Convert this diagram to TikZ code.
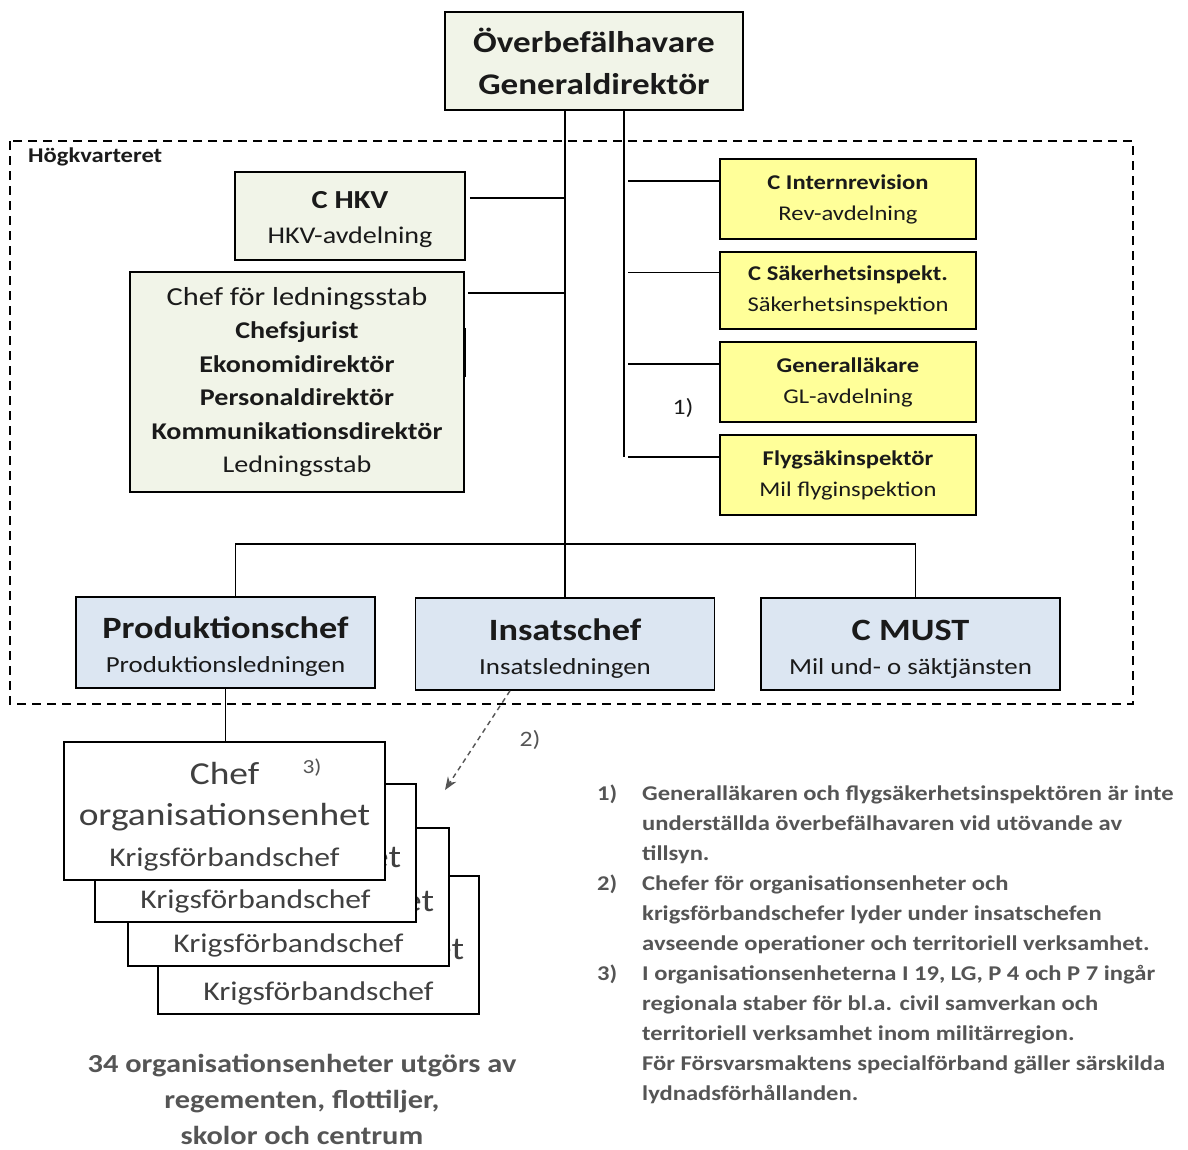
\documentclass[tikz,border=0pt]{standalone}
\usepackage{fontspec}
\setmainfont{Carlito}[FakeStretch=1.17]
\usepackage{tikz}
\usetikzlibrary{calc, positioning, arrows.meta}
\definecolor{staffgreen}{HTML}{F1F4E8}
\definecolor{inspyellow}{HTML}{FFFF99}
\definecolor{chiefblue}{HTML}{DCE6F2}
\definecolor{boxtext}{HTML}{1A1A1A}
\definecolor{notegray}{HTML}{555555}
\definecolor{unitgray}{HTML}{404040}
\newcommand{\fsz}[2]{\fontsize{#1}{#2}\selectfont}
\tikzset{
	box/.style={draw, line width=1.6pt, align=center, inner sep=0pt, text=boxtext},
	staff/.style={box, fill=staffgreen},
	inspect/.style={box, fill=inspyellow, minimum width=256pt, minimum height=80pt, font=\fsz{21}{31}},
	chief/.style={box, fill=chiefblue, minimum width=299pt, minimum height=92pt, font=\fsz{23}{34}},
	unit/.style={box, fill=white, line width=1.4pt, minimum width=321pt, minimum height=138pt, text=unitgray, font=\fsz{32}{41}},
	link/.style={line width=1.6pt}
}

\begin{document}
\begin{tikzpicture}[
	x=1pt, y=-1pt,
	note/.style={anchor=base west, inner sep=0pt, text=notegray, font=\fsz{21}{30}\bfseries},
	fnmark/.style={inner sep=0pt, text=notegray, font=\fsz{22}{26}}]
	\useasboundingbox (0,0) rectangle (1188,1149);

	% Högkvarteret
	\draw[line width=1.6pt, dash pattern=on 9pt off 6pt] (10,141) rectangle (1133,704);
	\node[anchor=west, inner sep=0pt, font=\fsz{21}{24}\bfseries, text=boxtext] (hkvlabel) at (28,157) {Högkvarteret};

	\node[staff, minimum width=298pt, minimum height=98pt, font=\fsz{30}{42}\bfseries] (top) at (594,61) {Överbefälhavare\\Generaldirektör};
	\node[staff, minimum width=230pt, minimum height=88pt, font=\fsz{24}{35}] (hkv) at (350,216) {{\fsz{26}{35}\bfseries\rule{0pt}{24pt}C HKV}\\HKV-avdelning};
	\node[staff, minimum width=334pt, minimum height=220pt, font=\fsz{24}{33.4}] (stab) at (297,382)
		{{\fsz{26}{33.4}Chef för ledningsstab}\\\textbf{Chefsjurist}\\\textbf{Ekonomidirektör}\\\textbf{Personaldirektör}\\\textbf{Kommunikationsdirektör}\\Ledningsstab};
	\draw[line width=3pt] ([yshift=-57pt]stab.north east) -- ([yshift=-106pt]stab.north east);

	\node[inspect] (rev) at (848,199) {\textbf{C Internrevision}\\Rev-avdelning};
	\node[inspect, minimum height=77pt] (sak) at (848,290.5) {\textbf{C Säkerhetsinspekt.}\\Säkerhetsinspektion};
	\node[inspect] (gl) at (848,382) {\textbf{Generalläkare}\\GL-avdelning};
	\node[inspect] (flyg) at (848,475) {\textbf{Flygsäkinspektör}\\Mil flyginspektion};
	\node[fnmark, text=boxtext] (fn1) at (683,408) {1)};

	\node[chief, minimum height=91pt] (prod) at (225.5,642.5) {{\fsz{31}{34}\bfseries\rule{0pt}{30pt}Produktionschef}\\Produktionsledningen};
	\node[chief] (insats) at (565,644) {{\fsz{31}{34}\bfseries\rule{0pt}{30pt}Insatschef}\\Insatsledningen};
	\node[chief] (must) at (910.5,644) {{\fsz{31}{34}\bfseries\rule{0pt}{30pt}C MUST}\\Mil und- o säktjänsten};

	% connectors
	\draw[link] (top.south -| insats.north) -- (insats.north);
	\coordinate (hkvtap) at ($(hkv.north east)+(4,27)$);
	\coordinate (stabtap) at ($(stab.north east)+(3,22)$);
	\draw[link] (hkvtap) -- (hkvtap -| insats.north);
	\draw[link] (stabtap) -- (stabtap -| insats.north);
	\coordinate (spine) at ($(top.south)+(30,0)$);
	\foreach \b in {rev, sak, gl, flyg} {
		\coordinate (tap-\b) at ([yshift=18pt]\b.west);
		\draw[link] (tap-\b) -- ([xshift=4pt]tap-\b -| spine);
	}
	\draw[link] (spine) -- (spine |- tap-flyg);
	\coordinate (bar) at (565,544);
	\draw[link] ([xshift=10pt]prod.north) |- (bar) -| ([xshift=5pt]must.north);

	% organisationsenheter
	\foreach \k/\dx/\dy in {3/94/134, 2/64/86, 1/31/42, 0/0/0}
		\node[unit] (unit\k) at (224.5+\dx,811+\dy) {\rule{0pt}{34pt}Chef\\organisationsenhet\\{\fsz{27}{41}Krigsförbandschef}};
	\node[fnmark, font=\fsz{20}{24}] (fn3) at (312,768) {3)};
	\draw[link] (prod.south) -- (prod.south |- unit0.north);

	\coordinate (arrowtip) at (445,790);
	\draw[notegray, line width=1.4pt, dash pattern=on 5pt off 4pt, -{Stealth[length=13pt, width=10pt]}] ($(insats.south)+(-55,0)$) -- (arrowtip);
	\node[fnmark] (fn2) at (530,740) {2)};

	\foreach \line [count=\k] in {34 organisationsenheter utgörs av, {regementen, flottiljer,}, skolor och centrum}
		\node[anchor=base, inner sep=0pt, text=notegray, font=\fsz{26}{36}\bfseries] (cap\k) at (302,1036+36*\k) {\line};

	% footnotes
	\node[note] (num1) at (597,800) {1)};
	\node[note] (num2) at (597,890) {2)};
	\node[note] (num3) at (597,980) {3)};
	\foreach \line [count=\k] in {Generalläkaren och flygsäkerhetsinspektören är inte,
		underställda överbefälhavaren vid utövande av,
		tillsyn.,
		Chefer för organisationsenheter och,
		krigsförbandschefer lyder under insatschefen,
		avseende operationer och territoriell verksamhet.,
		{I organisationsenheterna I 19, LG, P 4 och P 7 ingår},
		regionala staber för bl.a. civil samverkan och,
		territoriell verksamhet inom militärregion.,
		För Försvarsmaktens specialförband gäller särskilda,
		lydnadsförhållanden.}
		\node[note] (note\k) at (642,770+30*\k) {\line};
\end{tikzpicture}
\end{document}
